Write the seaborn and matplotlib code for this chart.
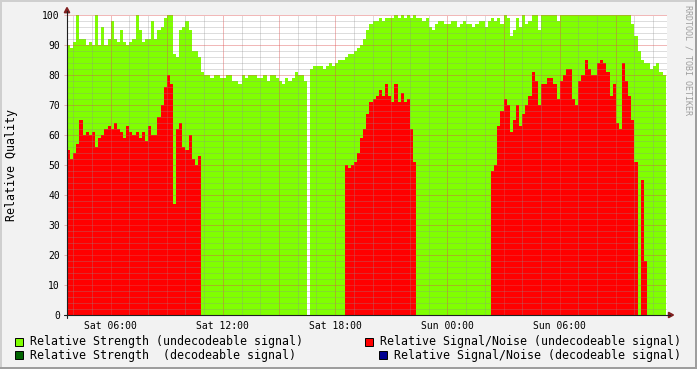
import numpy as np
import pandas as pd
import matplotlib
matplotlib.use("Agg")
import matplotlib.pyplot as plt
import seaborn as sns
from matplotlib.patches import Polygon, Rectangle
from matplotlib.lines import Line2D

# ---------------- data (10-minute samples starting Sat 03:40) ----------------
START_HOUR = 3 + 40 / 60
STEP_HOURS = 10 / 60

strength_undecodeable = [
    90, 89, 91, 100, 92, 92, 90, 91, 90, 100,
    90, 96, 90, 92, 98, 92, 91, 95, 91, 90,
    91, 92, 100, 95, 91, 92, 92, 98, 92, 95,
    96, 99, 100, 100, 87, 86, 95, 96, 98, 95,
    88, 88, 86, 81, 80, 80, 79, 80, 80, 79,
    79, 80, 80, 78, 78, 77, 80, 79, 80, 80,
    80, 79, 79, 80, 78, 80, 80, 79, 78, 77,
    79, 78, 79, 81, 80, 80, 78, 0, 82, 83,
    83, 83, 82, 83, 84, 83, 84, 85, 85, 86,
    87, 87, 88, 89, 90, 92, 95, 97, 98, 98,
    99, 98, 99, 99, 99, 100, 99, 100, 99, 100,
    99, 100, 99, 99, 98, 99, 96, 95, 97, 98,
    98, 97, 97, 98, 98, 96, 97, 98, 97, 97,
    96, 97, 98, 98, 96, 98, 99, 98, 99, 97,
    100, 99, 93, 95, 99, 96, 100, 97, 98, 100,
    100, 95, 100, 100, 100, 100, 100, 98, 100, 100,
    100, 100, 100, 100, 100, 100, 100, 100, 100, 100,
    100, 100, 100, 100, 100, 100, 100, 100, 100, 100,
    100, 97, 93, 88, 85, 84, 84, 82, 83, 84,
    81, 80,
]

snr_undecodeable = [
    55, 52, 54, 57, 65, 60, 61, 60, 61, 56,
    59, 60, 62, 63, 62, 64, 62, 61, 59, 63,
    61, 60, 61, 59, 61, 58, 63, 60, 60, 66,
    70, 76, 80, 77, 37, 62, 64, 56, 55, 60,
    52, 50, 53, 0, 0, 0, 0, 0, 0, 0,
    0, 0, 0, 0, 0, 0, 0, 0, 0, 0,
    0, 0, 0, 0, 0, 0, 0, 0, 0, 0,
    0, 0, 0, 0, 0, 0, 0, 0, 0, 0,
    0, 0, 0, 0, 0, 0, 0, 0, 0, 50,
    49, 50, 51, 54, 59, 62, 67, 71, 72, 73,
    75, 73, 77, 73, 71, 77, 71, 74, 71, 72,
    62, 51, 0, 0, 0, 0, 0, 0, 0, 0,
    0, 0, 0, 0, 0, 0, 0, 0, 0, 0,
    0, 0, 0, 0, 0, 0, 48, 50, 63, 68,
    72, 70, 61, 65, 70, 63, 67, 70, 73, 81,
    78, 70, 77, 77, 79, 79, 77, 72, 78, 80,
    82, 82, 72, 70, 78, 80, 85, 82, 80, 80,
    84, 85, 84, 81, 73, 77, 64, 62, 84, 78,
    73, 65, 51, 0, 45, 18, 0, 0, 0, 0,
    0, 0,
]

x_tick_hours = [6, 12, 18, 24, 30]
x_tick_labels = ["Sat 06:00", "Sat 12:00", "Sat 18:00", "Sun 00:00", "Sun 06:00"]
y_ticks = [0, 10, 20, 30, 40, 50, 60, 70, 80, 90, 100]

legend_labels = [
    "Relative Strength (undecodeable signal)",
    "Relative Strength  (decodeable signal)",
    "Relative Signal/Noise (undecodeable signal)",
    "Relative Signal/Noise (decodeable signal)",
]
legend_colors = ["#80ff00", "#006400", "#ff0000", "#000090"]

# ---------------- styling ----------------
sns.set_theme(style="white")
plt.rcParams["font.family"] = ["DejaVu Sans Mono", "DejaVu Sans"]

W, H = 697, 369
BG = "#f2f2f2"
GRID_MINOR = (0.56, 0.56, 0.56, 0.30)
GRID_MAJOR = (0.87, 0.31, 0.31, 0.40)
ARROW = (0.5, 0.12, 0.12)
AXIS = (0.12, 0.12, 0.12)

fig = plt.figure(figsize=(W / 100, H / 100), dpi=100, facecolor=BG)


def fx(px):
    return px / W


def fy(py):
    return 1 - py / H


PLOT_L, PLOT_R, PLOT_T, PLOT_B = 67, 667, 15, 315
ax = fig.add_axes([fx(PLOT_L), fy(PLOT_B), (PLOT_R - PLOT_L) / W, (PLOT_B - PLOT_T) / H])
ax.set_facecolor("white")

n = len(strength_undecodeable)
edges = [float(e) for e in START_HOUR + np.arange(n + 1) * STEP_HOURS]
centers = np.array(edges[:-1]) + STEP_HOURS / 2
df = pd.DataFrame({"t": centers,
                   "strength": strength_undecodeable,
                   "snr": snr_undecodeable})

sns.histplot(data=df, x="t", weights="strength", bins=edges, element="step",
             fill=True, color="#80ff00", alpha=1, linewidth=0, ax=ax)
sns.histplot(data=df, x="t", weights="snr", bins=edges, element="step",
             fill=True, color="#ff0000", alpha=1, linewidth=0, ax=ax)

px_per_hour = (560 - 111) / 24.0
ax.set_xlim(START_HOUR, START_HOUR + (PLOT_R - PLOT_L) / px_per_hour)
ax.set_ylim(0, 100)
ax.set_xlabel("")
ax.set_ylabel("")
for s in ax.spines.values():
    s.set_visible(False)

# grid (drawn on top of data, rrdtool style)
dot = (0, (1, 1))
lw = 0.72
x0, x1 = ax.get_xlim()
for h in range(int(np.ceil(x0)), int(np.floor(x1)) + 1):
    major = (h % 3 == 0)
    ax.axvline(h, color=GRID_MAJOR if major else GRID_MINOR, lw=lw,
               linestyle=dot, zorder=5, antialiased=False)
for v in range(2, 101, 2):
    major = (v % 10 == 0)
    ax.axhline(v, color=GRID_MAJOR if major else GRID_MINOR, lw=lw,
               linestyle=dot, zorder=5, antialiased=False)

# ticks
ax.set_xticks(x_tick_hours)
ax.set_xticklabels(x_tick_labels, fontsize=7, color="black")
ax.set_yticks(y_ticks)
ax.set_yticklabels([str(v) for v in y_ticks], fontsize=7, color="black")
ax.tick_params(axis="x", length=0, pad=4.2)
ax.tick_params(axis="y", length=2, width=0.72, color=GRID_MAJOR, pad=3.2, left=True)

# axis lines and arrows
fig.add_artist(Line2D([fx(67), fx(67)], [fy(318), fy(11)], color=AXIS, lw=0.8,
                      transform=fig.transFigure))
fig.add_artist(Line2D([fx(64), fx(670)], [fy(315), fy(315)], color=AXIS, lw=0.8,
                      transform=fig.transFigure))
fig.add_artist(Polygon([[fx(64.3), fy(12.7)], [fx(69.7), fy(12.7)], [fx(67), fy(7.5)]],
                       closed=True, color=ARROW, transform=fig.transFigure))
fig.add_artist(Polygon([[fx(668.5), fy(312.3)], [fx(668.5), fy(317.7)], [fx(673.5), fy(315)]],
                       closed=True, color=ARROW, transform=fig.transFigure))

# y label
fig.text(fx(12), fy(165), "Relative Quality", rotation=90, fontsize=8.4,
         ha="center", va="center", color="black")

# watermark
fig.text(fx(688), fy(60), "RRDTOOL / TOBI OETIKER", rotation=270, fontsize=6,
         ha="center", va="center", color=(0.62, 0.62, 0.62))

# legend
legend_pos = [(15, 30, 341.5), (15, 30, 355), (365, 380, 341.5), (379, 394, 355)]
for (bx, tx, cy), lab, col in zip(legend_pos, legend_labels, legend_colors):
    fig.add_artist(Rectangle((fx(bx), fy(cy + 4)), 8 / W, 8 / H, facecolor=col,
                             edgecolor="black", lw=0.7, transform=fig.transFigure))
    fig.text(fx(tx), fy(cy), lab, fontsize=8.35, ha="left", va="center", color="black")

# 3D frame
fig.add_artist(Rectangle((0, fy(2)), 1, 2 / H, color="#cfcfcf", transform=fig.transFigure, lw=0))
fig.add_artist(Rectangle((0, 0), 2 / W, 1, color="#cfcfcf", transform=fig.transFigure, lw=0))
fig.add_artist(Rectangle((0, 0), 1, 2 / H, color="#9e9e9e", transform=fig.transFigure, lw=0))
fig.add_artist(Rectangle((1 - 2 / W, 0), 2 / W, 1, color="#9e9e9e", transform=fig.transFigure, lw=0))

fig.savefig("out.png", dpi=100, facecolor=BG)
